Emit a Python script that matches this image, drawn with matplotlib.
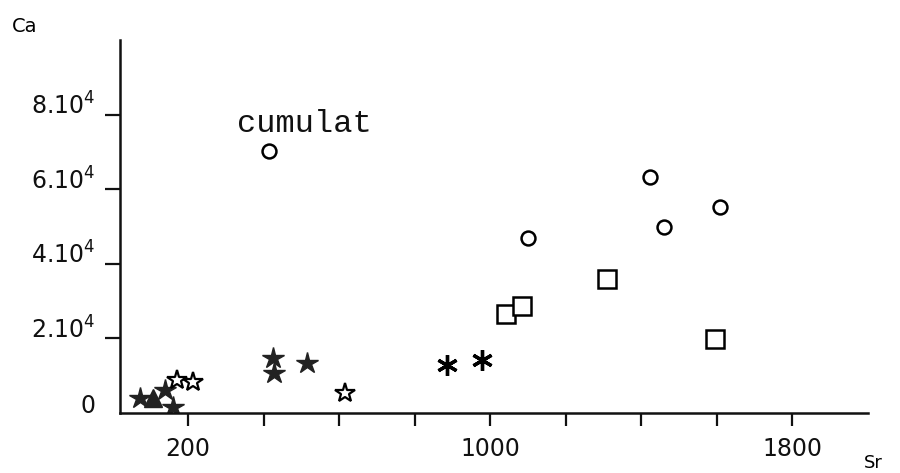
import numpy as np
import matplotlib.pyplot as plt

plt.rcParams['font.family'] = 'DejaVu Sans'
plt.rcParams['mathtext.fontset'] = 'dejavusans'

# Sr (x) and Ca (y) values, one group per symbol
circle_sr = [414, 1100, 1423, 1460, 1608]
circle_ca = [70200, 46900, 63300, 49900, 55200]

square_sr = [1042, 1084, 1309, 1595]
square_ca = [26500, 28700, 35900, 19800]

aster_sr = [886, 978]
aster_ca = [12900, 14200]

fstar_sr = [73, 139, 160, 425, 428, 515]
fstar_ca = [4000, 6200, 1600, 14700, 10700, 13400]

ostar_sr = [171, 213, 616]
ostar_ca = [8800, 8300, 5400]

tri_sr = [107]
tri_ca = [4000]

x_ticks = [200, 400, 600, 800, 1000, 1200, 1400, 1600, 1800]
x_labels = ['200', '', '', '', '1000', '', '', '', '1800']
y_ticks = [0, 20000, 40000, 60000, 80000]
y_labels = ['0', '2.10$^{4}$', '4.10$^{4}$', '6.10$^{4}$', '8.10$^{4}$']

fig = plt.figure(figsize=(9, 4.73), dpi=100)
ax = fig.add_axes([120 / 900, 1 - 413 / 473, 748 / 900, 373 / 473])

ax.plot(circle_sr, circle_ca, 'o', ms=10, mfc='white', mec='black', mew=1.8, ls='none')
ax.plot(square_sr, square_ca, 's', ms=12.5, mfc='white', mec='black', mew=1.8, ls='none')
ax.plot(aster_sr, aster_ca, marker=(6, 2, 0), ms=15, mec='black', mew=2.4, ls='none')
ax.plot(fstar_sr, fstar_ca, '*', ms=16, mfc='#222222', mec='#222222', ls='none')
ax.plot(ostar_sr, ostar_ca, '*', ms=15, mfc='white', mec='black', mew=1.6, ls='none')
ax.plot(tri_sr, tri_ca, '^', ms=13, mfc='#222222', mec='#222222', ls='none')

ax.text(330, 75300, 'cumulat', family='Liberation Mono', fontsize=23,
        ha='left', va='baseline', color='#111111')

ax.set_xlim(20, 2000)
ax.set_ylim(0, 100000)

for s in ['top', 'right']:
    ax.spines[s].set_visible(False)
for s in ['left', 'bottom']:
    ax.spines[s].set_linewidth(1.8)
    ax.spines[s].set_color('#111111')

ax.set_xticks(x_ticks)
ax.set_xticklabels(x_labels)
ax.set_yticks(y_ticks)
ax.set_yticklabels(y_labels)
ax.tick_params(axis='x', direction='out', length=9, width=1.6, pad=8,
               labelsize=17, colors='#111111')
ax.tick_params(axis='y', direction='out', length=11, width=1.6, pad=7,
               labelsize=17, colors='#111111')
for lab in ax.get_yticklabels():
    lab.set_va('baseline')
ax.yaxis.get_major_ticks()[0].tick1line.set_visible(False)

fig.text(12 / 900, 1 - 27 / 473, 'Ca', fontsize=14, va='center', ha='left')
fig.text(873 / 900, 1 - 463 / 473, 'Sr', fontsize=13, va='center', ha='center')

fig.savefig('out.png', dpi=100)
